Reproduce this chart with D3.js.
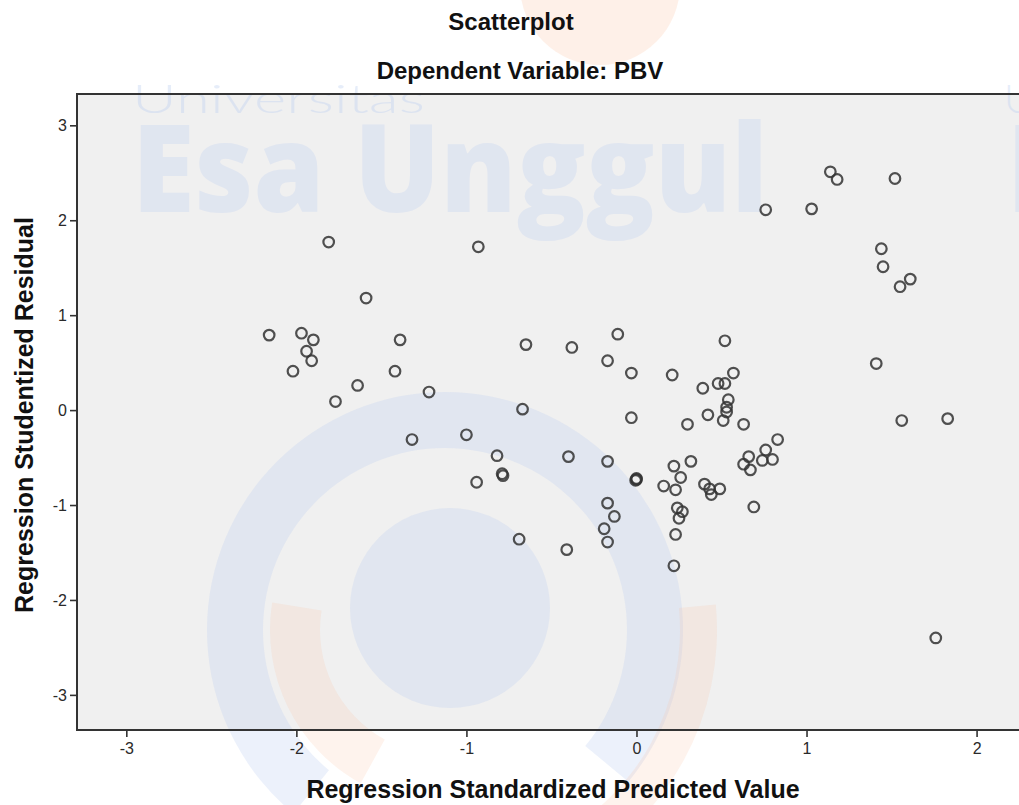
<!DOCTYPE html>
<html><head><meta charset="utf-8">
<script src="https://cdn.jsdelivr.net/npm/d3@7"></script>
<style>body{margin:0;background:#fff;} svg{display:block;}</style>
</head><body><svg id="chart" width="1019" height="805"></svg>
<script>
const title = "Scatterplot";
const subtitle = "Dependent Variable: PBV";
const xLabel = "Regression Standardized Predicted Value";
const yLabel = "Regression Studentized Residual";
const xTicks = [-3, -2, -1, 0, 1, 2];
const yTicks = [-3, -2, -1, 0, 1, 2, 3];
const predicted = [
  -2.16,-1.97,-1.90,-1.94,-1.91,-2.02,-1.81,-1.59,-1.64,-1.77,-1.39,-1.42,-1.22,-1.32,-0.93,-1.00,-0.82,-0.79,-0.785,-0.94,-0.65,-0.67,-0.69,
  -0.38,-0.40,-0.41,-0.11,-0.17,-0.17,-0.17,-0.13,-0.19,-0.17,-0.03,-0.03,0.00,0.00,-0.005,
  0.21,0.52,0.39,0.48,0.52,0.57,0.54,0.53,0.53,0.51,0.42,0.30,0.63,0.83,0.76,0.66,0.63,0.74,0.80,0.67,0.32,0.22,0.26,0.16,0.23,0.40,0.43,0.44,0.49,0.69,0.24,0.27,0.25,0.23,0.22,
  1.14,1.18,1.52,0.76,1.03,1.44,1.45,1.61,1.55,1.41,1.56,1.83,1.76
];
const residual = [
  0.79,0.81,0.74,0.62,0.52,0.41,1.77,1.18,0.26,0.09,0.74,0.41,0.19,-0.31,1.72,-0.26,-0.48,-0.67,-0.69,-0.76,0.69,0.01,-1.36,
  0.66,-0.49,-1.47,0.80,0.52,-0.54,-0.98,-1.12,-1.25,-1.39,0.39,-0.08,-0.73,-0.72,-0.74,
  0.37,0.73,0.23,0.28,0.28,0.39,0.11,0.03,-0.02,-0.11,-0.05,-0.15,-0.15,-0.31,-0.42,-0.49,-0.57,-0.53,-0.52,-0.63,-0.54,-0.59,-0.71,-0.80,-0.84,-0.78,-0.83,-0.89,-0.83,-1.02,-1.03,-1.07,-1.14,-1.31,-1.64,
  2.51,2.43,2.44,2.11,2.12,1.70,1.51,1.38,1.30,0.49,-0.11,-0.09,-2.40
];
const points = predicted.map((p, i) => ({ x: p, y: residual[i] }));

const svg = d3.select("#chart");
const x = d3.scaleLinear().domain([-3.29, 2.32]).range([77, 1031]);
const y = d3.scaleLinear().domain([-3.37, 3.33]).range([730, 94]);
const font = "'Liberation Sans', Arial, sans-serif";

svg.append("rect").attr("width", 1019).attr("height", 805).attr("fill", "#fff");
svg.append("rect").attr("x", 77).attr("y", 94).attr("width", 1031 - 77).attr("height", 730 - 94).attr("fill", "#f0f0f0");

// watermark (logo overlay)
const wm = svg.append("g").attr("pointer-events", "none");
const blue = "rgb(185,205,240)";
const orange = "rgb(250,195,165)";
wm.append("circle").attr("cx", 600).attr("cy", -15).attr("r", 80).attr("fill", orange).attr("opacity", 0.25);
wm.append("circle").attr("cx", 450).attr("cy", 608).attr("r", 100).attr("fill", blue).attr("opacity", 0.28);
const arcGen = d3.arc();
wm.append("path").attr("transform", "translate(445,630)")
  .attr("d", arcGen({ innerRadius: 182, outerRadius: 238, startAngle: -Math.PI * 0.78, endAngle: Math.PI * 0.72 }))
  .attr("fill", blue).attr("opacity", 0.28);
wm.append("path").attr("transform", "translate(445,630)")
  .attr("d", arcGen({ innerRadius: 125, outerRadius: 175, startAngle: -Math.PI * 0.84, endAngle: -Math.PI * 0.45 }))
  .attr("fill", orange).attr("opacity", 0.2);
wm.append("path").attr("transform", "translate(445,630)")
  .attr("d", arcGen({ innerRadius: 235, outerRadius: 272, startAngle: Math.PI * 0.47, endAngle: Math.PI * 0.85 }))
  .attr("fill", orange).attr("opacity", 0.2);
wm.append("text").text("Universitas").attr("x", 132).attr("y", 113)
  .attr("font-family", "Lato, 'Open Sans', sans-serif").attr("font-weight", 300).attr("font-size", 40)
  .attr("textLength", 293).attr("lengthAdjust", "spacingAndGlyphs").attr("fill", blue).attr("opacity", 0.35);
wm.append("text").text("Esa Unggul").attr("x", 132).attr("y", 212)
  .attr("font-family", "'Open Sans', Roboto, sans-serif").attr("font-weight", 800).attr("font-size", 122)
  .attr("textLength", 636).attr("lengthAdjust", "spacingAndGlyphs").attr("fill", blue).attr("opacity", 0.28);
wm.append("text").text("Universitas").attr("x", 1004).attr("y", 113)
  .attr("font-family", "Lato, 'Open Sans', sans-serif").attr("font-weight", 300).attr("font-size", 40)
  .attr("fill", blue).attr("opacity", 0.35);
wm.append("text").text("Esa").attr("x", 1006).attr("y", 212)
  .attr("font-family", "'Open Sans', Roboto, sans-serif").attr("font-weight", 800).attr("font-size", 122)
  .attr("fill", blue).attr("opacity", 0.28);

// axes
const xAxis = svg.append("g").attr("transform", "translate(0,730)")
  .call(d3.axisBottom(x).tickValues(xTicks).tickSize(7).tickPadding(6).tickFormat(d => String(d)));
const yAxis = svg.append("g").attr("transform", "translate(77,0)")
  .call(d3.axisLeft(y).tickValues(yTicks).tickSize(7).tickPadding(3).tickFormat(d => String(d)));
[xAxis, yAxis].forEach(g => {
  g.select(".domain").remove();
  g.selectAll(".tick line").attr("stroke", "#333").attr("stroke-width", 1.6);
  g.selectAll(".tick text").attr("font-family", font).attr("font-size", 16).attr("fill", "#2a2a2a");
});

// frame
svg.append("rect").attr("x", 77).attr("y", 94).attr("width", 1031 - 77).attr("height", 730 - 94)
  .attr("fill", "none").attr("stroke", "#333").attr("stroke-width", 2);

// points
svg.append("g").selectAll("circle").data(points).join("circle")
  .attr("cx", d => x(d.x)).attr("cy", d => y(d.y)).attr("r", 5.3)
  .attr("fill", "none").attr("stroke", "#333").attr("stroke-width", 2.2).attr("stroke-opacity", 0.85);

// titles
svg.append("text").text(title).attr("x", 511).attr("y", 30).attr("text-anchor", "middle")
  .attr("font-family", font).attr("font-weight", "bold").attr("font-size", 24).attr("fill", "#111");
svg.append("text").text(subtitle).attr("x", 520).attr("y", 79).attr("text-anchor", "middle")
  .attr("font-family", font).attr("font-weight", "bold").attr("font-size", 24).attr("fill", "#111");
svg.append("text").text(xLabel).attr("x", 553).attr("y", 798).attr("text-anchor", "middle")
  .attr("font-family", font).attr("font-weight", "bold").attr("font-size", 25).attr("fill", "#111");
svg.append("text").text(yLabel).attr("transform", "translate(33,415) rotate(-90)").attr("text-anchor", "middle")
  .attr("font-family", font).attr("font-weight", "bold").attr("font-size", 25).attr("fill", "#111");
</script>
</body></html>
